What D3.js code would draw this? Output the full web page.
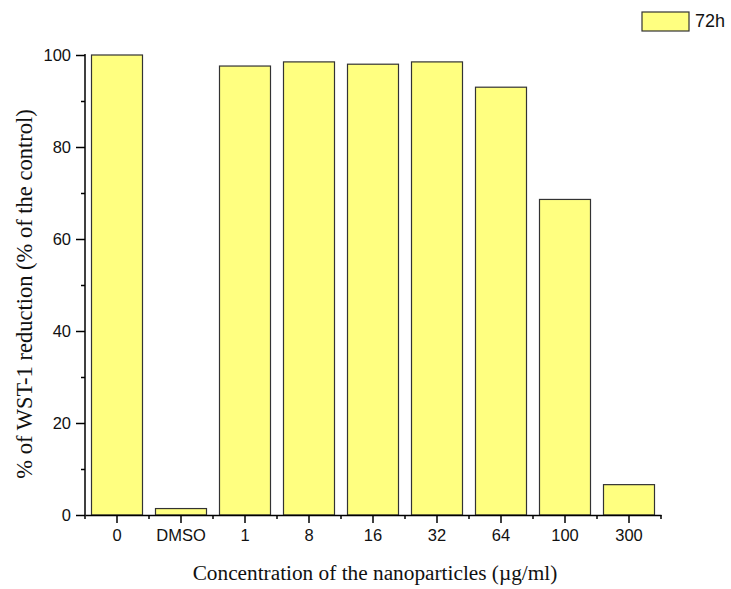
<!DOCTYPE html>
<html><head><meta charset="utf-8">
<script src="https://cdn.jsdelivr.net/npm/d3@7"></script>
<style>body{margin:0;background:#fff}svg{display:block}</style>
</head><body>
<svg id="c" width="731" height="589"></svg>
<script>
const categories = ["0","DMSO","1","8","16","32","64","100","300"];
const values = [100, 1.4, 97.6, 98.5, 98.0, 98.5, 93.0, 68.6, 6.6];
const yTicks = [0,20,40,60,80,100];
const seriesName = "72h";

(function(){
const svg = d3.select("#c");
const mL = 85, mR = 661, mT = 55, mB = 515;
const xb = d3.scaleBand().domain(categories).range([mL, mR]);
const y = d3.scaleLinear().domain([0,100]).range([mB, mT]);
const barW = 51;

// bars
svg.selectAll("rect.bar").data(values).join("rect")
  .attr("class","bar")
  .attr("x",(d,i)=>xb(categories[i]) + (xb.bandwidth()-barW)/2)
  .attr("width",barW)
  .attr("y",d=>y(d))
  .attr("height",d=>y(0)-y(d))
  .attr("fill","#ffff80").attr("stroke","#333").attr("stroke-width",1.2);

// y axis
const yAxis = d3.axisLeft(y).tickValues(yTicks).tickSize(9).tickPadding(5);
const gy = svg.append("g").attr("transform",`translate(${mL},0)`).call(yAxis);
const yMinor = d3.axisLeft(y).tickValues([10,30,50,70,90]).tickSize(4).tickFormat("");
svg.append("g").attr("transform",`translate(${mL},0)`).call(yMinor).select(".domain").remove();

// x axis
const xAxis = d3.axisBottom(xb).tickSize(8).tickPadding(6).tickSizeOuter(0);
const gx = svg.append("g").attr("transform",`translate(0,${mB})`).call(xAxis);
const bounds = d3.range(categories.length+1).map(i=>mL + i*xb.step());
svg.append("g").selectAll("line").data(bounds).join("line")
  .attr("x1",d=>d).attr("x2",d=>d).attr("y1",mB).attr("y2",mB+4)
  .attr("stroke","#000").attr("stroke-width",1.5);

svg.selectAll(".domain").attr("stroke","#000").attr("stroke-width",1.5);
svg.selectAll(".tick line").attr("stroke","#000").attr("stroke-width",1.5);
svg.selectAll(".tick text").attr("font-family","'Liberation Sans', Arial, sans-serif").attr("font-size",16.5).attr("fill","#111");
gy.selectAll(".domain").attr("d",`M0,${y(0)}V${mT-1}`);

// axis titles
svg.append("text").attr("x",375).attr("y",580).attr("text-anchor","middle")
  .attr("font-family","'Liberation Serif', 'Times New Roman', serif").attr("font-size",21.3).attr("fill","#111")
  .text("Concentration of the nanoparticles (\u00b5g/ml)");
svg.append("text").attr("transform","translate(32,294) rotate(-90)").attr("text-anchor","middle")
  .attr("font-family","'Liberation Serif', 'Times New Roman', serif").attr("font-size",22.5).attr("fill","#111")
  .text("% of WST-1 reduction (% of the control)");

// legend
const lg = svg.append("g");
lg.append("rect").attr("x",642).attr("y",12).attr("width",47).attr("height",19)
  .attr("fill","#ffff80").attr("stroke","#333").attr("stroke-width",1.2);
lg.append("text").attr("x",695).attr("y",27).attr("font-family","'Liberation Sans', Arial, sans-serif")
  .attr("font-size",18).attr("fill","#111").text(seriesName);
})();
</script>
</body></html>
